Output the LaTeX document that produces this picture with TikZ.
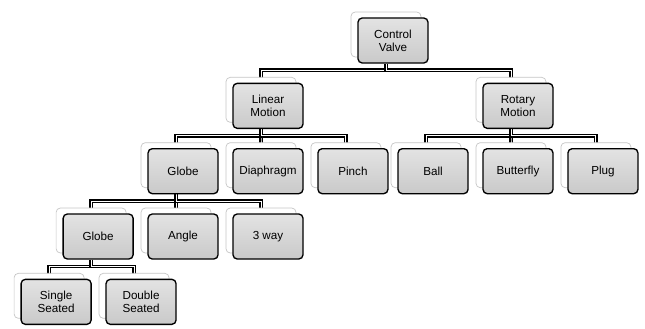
\documentclass[tikz,border=0pt]{standalone}
\usepackage{fontspec}
\setmainfont{Liberation Sans}
\usepackage{tikz}
\usetikzlibrary{positioning, shadows, backgrounds}
\tikzstyle{valve} = [
    rectangle, rounded corners=3pt, minimum width=1.75cm, minimum height=1.125cm,
    inner sep=1pt, align=center, draw=black, line width=0.95pt,
    top color=gray!22, bottom color=gray!42,
    font=\fontsize{8.3}{9.3}\selectfont,
    copy shadow={shadow xshift=-0.175cm, shadow yshift=0.15cm,
        fill=white, draw=gray!45, line width=0.5pt}
]
\tikzstyle{link} = [line width=1.05pt, double=white, double distance=0.7pt]

\begin{document}
\begin{tikzpicture}[node distance=0.475cm and 0.34cm]
    \useasboundingbox (0,0) rectangle (16.125,-8.225);
    % Nodes
    \node[valve] (cv) at (9.825,-1.0125) {Control\\Valve};
    \node[valve, below=of cv, xshift=-3.125cm] (linear) {Linear\\Motion};
    \node[valve, below=of cv, xshift=3.125cm] (rotary) {Rotary\\Motion};
    \node[valve, below=of linear] (diaphragm) {Diaphragm};
    \node[valve, left=of diaphragm] (globe) {Globe};
    \node[valve, right=of diaphragm] (pinch) {Pinch};
    \node[valve, below=of rotary] (butterfly) {Butterfly};
    \node[valve, left=of butterfly] (ball) {Ball};
    \node[valve, right=of butterfly] (plug) {Plug};
    \node[valve, below=of globe] (angle) {Angle};
    \node[valve, left=of angle] (globeb) {Globe};
    \node[valve, right=of angle] (threeway) {3 way};
    \node[valve, below=of globeb, xshift=-1.05cm] (sglseat) {Single\\Seated};
    \node[valve, right=of sglseat] (dblseat) {Double\\Seated};
    % Connectors
    \begin{scope}[on background layer]
        \foreach \c in {linear,rotary}
            \draw[link] ([xshift=-0.175cm]cv.south) -- ++(0,-0.17) -| ([xshift=-0.175cm]\c.north);
        \foreach \c in {globe,diaphragm,pinch}
            \draw[link] ([xshift=-0.175cm]linear.south) -- ++(0,-0.17) -| ([xshift=-0.175cm]\c.north);
        \foreach \c in {ball,butterfly,plug}
            \draw[link] ([xshift=-0.175cm]rotary.south) -- ++(0,-0.17) -| ([xshift=-0.175cm]\c.north);
        \foreach \c in {globeb,angle,threeway}
            \draw[link] ([xshift=-0.175cm]globe.south) -- ++(0,-0.17) -| ([xshift=-0.175cm]\c.north);
        \foreach \c in {sglseat,dblseat}
            \draw[link] ([xshift=-0.175cm]globeb.south) -- ++(0,-0.17) -| ([xshift=-0.175cm]\c.north);
    \end{scope}
\end{tikzpicture}
\end{document}
